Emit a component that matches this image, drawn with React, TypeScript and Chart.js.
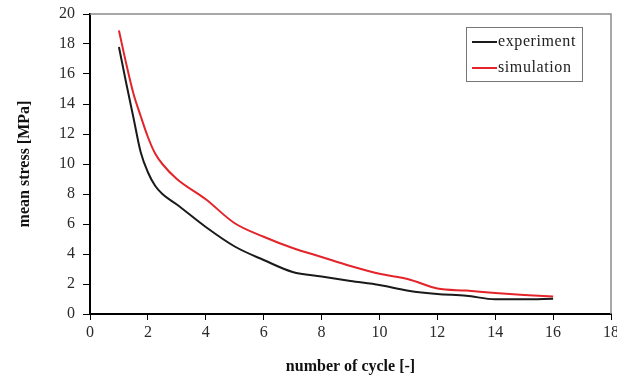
import React, { useEffect, useRef } from "react";
import { Chart, registerables } from "chart.js";

Chart.register(...registerables);

const cycles = [1, 1.25, 1.5, 1.75, 2, 2.25, 2.5, 3, 4, 5, 6, 7, 8, 9, 10, 11, 12, 13, 14, 15, 16];
const experiment = [17.8, 15.4, 13.1, 10.8, 9.45, 8.55, 8.0, 7.3, 5.8, 4.5, 3.6, 2.8, 2.5, 2.2, 1.93, 1.55, 1.33, 1.22, 0.98, 0.98, 1.02];
const simulation = [18.9, 16.7, 14.7, 13.2, 11.8, 10.7, 10.0, 9.0, 7.65, 6.05, 5.15, 4.4, 3.8, 3.2, 2.68, 2.32, 1.7, 1.56, 1.4, 1.27, 1.16];
const seriesNames = ["experiment", "simulation"];
const seriesColors = ["#1a1a1a", "#e3242b"];

const frameAndLegend = {
  id: "frameAndLegend",
  afterDraw(chart: any) {
    const { ctx, chartArea } = chart;
    ctx.save();
    // top and right frame
    ctx.strokeStyle = "#8a8a8a";
    ctx.lineWidth = 1.5;
    ctx.beginPath();
    ctx.moveTo(chartArea.left, chartArea.top);
    ctx.lineTo(chartArea.right, chartArea.top);
    ctx.lineTo(chartArea.right, chartArea.bottom);
    ctx.stroke();
    // legend box
    const bx = 466, by = 27, bw = 116, bh = 54;
    ctx.fillStyle = "#ffffff";
    ctx.fillRect(bx, by, bw, bh);
    ctx.strokeStyle = "#777777";
    ctx.lineWidth = 1;
    ctx.strokeRect(bx + 0.5, by + 0.5, bw, bh);
    ctx.font = "16px 'Liberation Serif', 'Times New Roman', serif";
    ctx.textBaseline = "middle";
    ctx.textAlign = "left";
    try { (ctx as any).letterSpacing = "0.6px"; } catch (e) {}
    chart.data.datasets.forEach((ds: any, i: number) => {
      const y = by + 15 + i * 26;
      ctx.strokeStyle = ds.borderColor;
      ctx.lineWidth = 2;
      ctx.beginPath();
      ctx.moveTo(bx + 6, y);
      ctx.lineTo(bx + 31, y);
      ctx.stroke();
      ctx.fillStyle = "#222222";
      ctx.fillText(ds.label, bx + 32, y);
    });
    ctx.restore();
  },
};

export default function App() {
  const ref = useRef<HTMLCanvasElement | null>(null);
  useEffect(() => {
    if (!ref.current) return;
    const tickFont = { family: "'Liberation Serif', 'Times New Roman', serif", size: 16 };
    const titleFont = { family: "'Liberation Serif', 'Times New Roman', serif", size: 16, weight: "bold" as const };
    const chart = new Chart(ref.current, {
      type: "line",
      data: {
        datasets: [experiment, simulation].map((vals, i) => ({
          label: seriesNames[i],
          data: cycles.map((c, j) => ({ x: c, y: vals[j] })),
          borderColor: seriesColors[i],
          backgroundColor: seriesColors[i],
          borderWidth: 2,
          pointRadius: 0,
          cubicInterpolationMode: "monotone" as const,
          fill: false,
        })),
      },
      options: {
        responsive: false,
        animation: false,
        layout: { padding: { top: 14, right: 6, bottom: 0, left: 0 } },
        plugins: { legend: { display: false }, tooltip: { enabled: false } },
        scales: {
          x: {
            type: "linear",
            min: 0,
            max: 18,
            ticks: { stepSize: 2, font: tickFont, color: "#2a2a2a", padding: 3, maxRotation: 0 },
            grid: { drawOnChartArea: false, drawTicks: true, tickLength: 6, color: "#000" },
            border: { display: true, color: "#000", width: 2 },
            title: { display: true, text: "number of cycle [-]", font: titleFont, color: "#111", padding: { top: 4, bottom: 5 } },
            afterFit: (s: any) => { s.height = 67; s.paddingLeft = 0; s.paddingRight = 0; },
          },
          y: {
            type: "linear",
            min: 0,
            max: 20,
            ticks: { stepSize: 2, font: tickFont, color: "#2a2a2a", padding: 8 },
            grid: { drawOnChartArea: false, drawTicks: true, tickLength: 7, color: "#000" },
            border: { display: true, color: "#000", width: 2 },
            title: { display: true, text: "mean stress [MPa]", font: titleFont, color: "#111", padding: { top: 15, bottom: 4 } },
            afterFit: (s: any) => { s.width = 90; s.paddingTop = 0; s.paddingBottom = 0; },
          },
        },
      },
      plugins: [frameAndLegend],
    });
    return () => chart.destroy();
  }, []);
  return (
    <div style={{ position: "absolute", left: 0, top: 0, width: 617, height: 381, background: "#fff" }}>
      <canvas ref={ref} width={617} height={381} />
    </div>
  );
}
